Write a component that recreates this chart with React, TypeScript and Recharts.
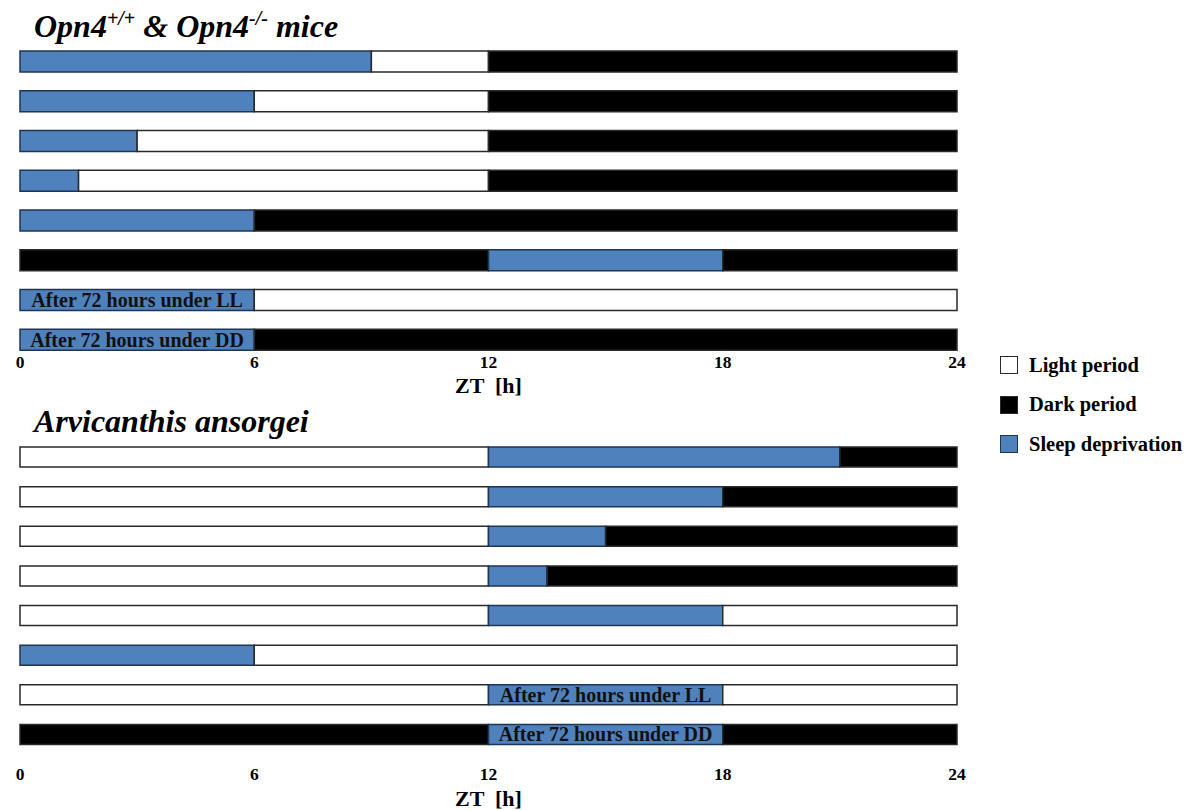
import React from "react";
import { BarChart, Bar, XAxis, YAxis, Cell, LabelList, Label } from "recharts";

type Kind = "light" | "dark" | "sd";
type Seg = [Kind, number]; // kind of period, hour (ZT) at which it ends

const ztTicks = [0, 6, 12, 18, 24];

// Opn4+/+ & Opn4-/- mice protocols
const miceRows: Seg[][] = [
  [["sd", 9], ["light", 12], ["dark", 24]],
  [["sd", 6], ["light", 12], ["dark", 24]],
  [["sd", 3], ["light", 12], ["dark", 24]],
  [["sd", 1.5], ["light", 12], ["dark", 24]],
  [["sd", 6], ["dark", 24]],
  [["dark", 12], ["sd", 18], ["dark", 24]],
  [["sd", 6], ["light", 24]],
  [["sd", 6], ["dark", 24]],
];
const miceNotes = ["", "", "", "", "", "", "After 72 hours under LL", "After 72 hours under DD"];

// Arvicanthis ansorgei protocols
const arviRows: Seg[][] = [
  [["light", 12], ["sd", 21], ["dark", 24]],
  [["light", 12], ["sd", 18], ["dark", 24]],
  [["light", 12], ["sd", 15], ["dark", 24]],
  [["light", 12], ["sd", 13.5], ["dark", 24]],
  [["light", 12], ["sd", 18], ["light", 24]],
  [["sd", 6], ["light", 24]],
  [["light", 12], ["sd", 18], ["light", 24]],
  [["dark", 12], ["sd", 18], ["dark", 24]],
];
const arviNotes = ["", "", "", "", "", "", "After 72 hours under LL", "After 72 hours under DD"];

const legendItems: { kind: Kind; name: string }[] = [
  { kind: "light", name: "Light period" },
  { kind: "dark", name: "Dark period" },
  { kind: "sd", name: "Sleep deprivation" },
];

const FILL: Record<Kind, string> = { light: "#ffffff", dark: "#000000", sd: "#4f81bd" };
const STROKE: Record<Kind, string> = { light: "#2a2a2a", dark: "#2a2a2a", sd: "#1f3552" };
const SERIF = '"Liberation Serif", "Times New Roman", serif';

// turn each row of segment ends into stacked durations
function buildTable(rows: Seg[][], notes: string[]) {
  return rows.map((segs, i) => {
    const row: any = { row: `r${i}` };
    let start = 0;
    segs.forEach(([kind, end], j) => {
      row[`seg${j}`] = end - start;
      row[`kind${j}`] = kind;
      row[`note${j}`] = kind === "sd" && notes[i] ? notes[i] : undefined;
      start = end;
    });
    return row;
  });
}

const ZtTick = ({ x, y, payload, dy }: any) => (
  <text x={x} y={y + dy} textAnchor="middle" fontFamily={SERIF} fontWeight="bold" fontSize={17.5} fill="#000">
    {payload.value}
  </text>
);

const AxisTitle = ({ viewBox, dy }: any) => (
  <text
    x={viewBox.x + viewBox.width / 2}
    y={viewBox.y + dy}
    textAnchor="middle"
    fontFamily={SERIF}
    fontWeight="bold"
    fontSize={22}
    fill="#000"
    style={{ whiteSpace: "pre" }}
  >
    {"ZT  [h]"}
  </text>
);

const NoteLabel = (props: any) => {
  const { x, y, width, height, value } = props;
  if (!value) return null;
  return (
    <text
      x={x + width / 2}
      y={y + height / 2}
      dy={7}
      textAnchor="middle"
      fontFamily={SERIF}
      fontWeight="bold"
      fontSize={20}
      fill="#111"
    >
      {value}
    </text>
  );
};

interface ChartProps {
  rows: Seg[][];
  notes: string[];
  height: number;
  top: number;
  axisHeight: number;
  barSize: number;
  tickDy: number;
  titleDy: number;
}

const ScheduleChart: React.FC<ChartProps> = ({ rows, notes, height, top, axisHeight, barSize, tickDy, titleDy }) => {
  const data = buildTable(rows, notes);
  return (
    <BarChart
      width={1000}
      height={height}
      data={data}
      layout="vertical"
      barSize={barSize}
      margin={{ top, right: 43, left: 20, bottom: 0 }}
    >
      <XAxis
        type="number"
        domain={[0, 24]}
        ticks={ztTicks}
        interval={0}
        axisLine={false}
        tickLine={false}
        tickSize={0}
        tickMargin={0}
        height={axisHeight}
        tick={<ZtTick dy={tickDy} />}
      >
        <Label content={<AxisTitle dy={titleDy} />} />
      </XAxis>
      <YAxis type="category" dataKey="row" hide />
      {[0, 1, 2].map((j) => (
        <Bar key={j} dataKey={`seg${j}`} stackId="day" strokeWidth={1.5} isAnimationActive={false}>
          {data.map((d, i) => (
            <Cell key={i} fill={FILL[d[`kind${j}`] as Kind]} stroke={STROKE[d[`kind${j}`] as Kind]} />
          ))}
          <LabelList dataKey={`note${j}`} content={NoteLabel} />
        </Bar>
      ))}
    </BarChart>
  );
};

const titleStyle: React.CSSProperties = {
  position: "absolute",
  left: 34,
  fontFamily: SERIF,
  fontWeight: "bold",
  fontStyle: "italic",
  fontSize: 32,
  lineHeight: "36px",
  whiteSpace: "nowrap",
  color: "#000",
};

const supStyle: React.CSSProperties = { fontSize: 20, verticalAlign: "12px", lineHeight: 0 };

export default function App() {
  return (
    <div style={{ position: "absolute", left: 0, top: 0, width: 1190, height: 810, background: "#fff" }}>
      <div style={{ ...titleStyle, top: 8 }}>
        Opn4<span style={supStyle}>+/+</span> &amp; Opn4<span style={supStyle}>-/-</span> mice
      </div>
      <div style={{ ...titleStyle, top: 403 }}>Arvicanthis ansorgei</div>

      <div style={{ position: "absolute", left: 0, top: 0 }}>
        <ScheduleChart rows={miceRows} notes={miceNotes} height={400} top={42} axisHeight={40} barSize={21} tickDy={8} titleDy={33} />
      </div>
      <div style={{ position: "absolute", left: 0, top: 400 }}>
        <ScheduleChart rows={arviRows} notes={arviNotes} height={410} top={37} axisHeight={56} barSize={20} tickDy={26} titleDy={52} />
      </div>

      <div style={{ position: "absolute", left: 1000, top: 355, fontFamily: SERIF }}>
        {legendItems.map((it) => (
          <div key={it.kind} style={{ display: "flex", alignItems: "center", height: 20, marginBottom: 19.5 }}>
            <div
              style={{
                width: 16,
                height: 16,
                background: FILL[it.kind],
                border: `1.5px solid ${STROKE[it.kind]}`,
                marginRight: 11,
              }}
            />
            <span style={{ fontWeight: "bold", fontSize: 20.5, color: "#000" }}>{it.name}</span>
          </div>
        ))}
      </div>
    </div>
  );
}
